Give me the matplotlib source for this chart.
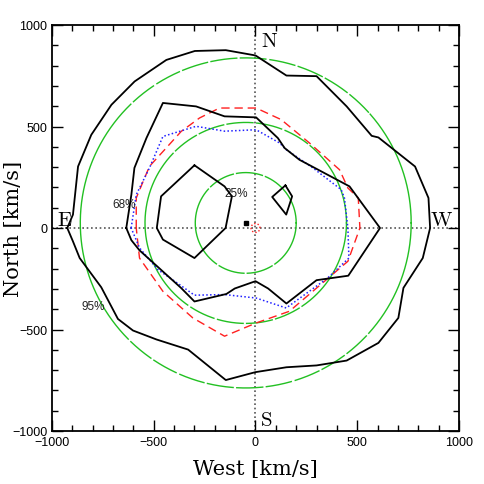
import numpy as np
import matplotlib
matplotlib.use("Agg")
import matplotlib.pyplot as plt
from matplotlib.ticker import MultipleLocator

plt.rcParams['mathtext.fontset'] = 'cm'
plt.rcParams['font.family'] = ['Liberation Sans', 'DejaVu Sans']

# 95% contour
x95 = [-925, -897, -872, -807, -708, -594, -438, -298, -146, 0, 152, 300, 448, 571, 604, 784, 850, 858,
       822, 727, 702, 604, 448, 300, 152, 0, -146, -331, -487, -602, -676, -758, -864, -897, -925]
y95 = [0, 66, 303, 459, 607, 722, 828, 872, 876, 850, 751, 748, 599, 454, 446, 303, 148, 0,
       -148, -295, -443, -566, -653, -677, -686, -710, -749, -599, -549, -505, -448, -292, -148, -66, 0]
# 68% contour
x68 = [-635, -610, -595, -536, -455, -292, -152, 3, 110, 143, 216, 462, 612, 456, 300, 152, 62, 0,
       -102, -143, -300, -365, -570, -610, -635]
y68 = [0, 164, 296, 443, 616, 599, 550, 545, 443, 394, 336, 205, 0, -235, -257, -372, -298, -262,
       -298, -325, -362, -296, -110, -60, 0]
# 25% contours
xh = [-300, -152, -116, -147, -300, -455, -485, -464, -300]
yh = [309, 205, 156, 0, -148, -57, 0, 156, 309]
xd = [147, 180, 151, 82, 147]
yd = [210, 156, 66, 153, 210]
# red dashed contour
xr = [-586, -586, -521, -439, -365, -275, -177, 3, 126, 265, 413, 454, 505, 513, 454, 167, 3, -152,
      -308, -455, -570, -586]
yr = [0, 148, 304, 394, 476, 542, 591, 591, 534, 419, 287, 197, 148, 0, -164, -410, -468, -533,
      -443, -312, -148, 0]
# blue dotted contour
xb = [-611, -586, -521, -455, -292, -152, 3, 118, 151, 282, 421, 437, 454, 459, 355, 151, 3, -152,
      -300, -373, -480, -570, -611]
yb = [0, 164, 296, 451, 501, 477, 484, 419, 386, 296, 189, 148, 0, -148, -246, -394, -345, -328,
      -331, -279, -205, -98, 0]
# green circles
circ_center = (-48, 25)
circ_radii = [248, 495, 813]
# red dotted small circle at origin
origin_r = 22

fig = plt.figure(figsize=(4.85, 4.85), dpi=100)
ax = fig.add_axes([52/485, 53/485, 407/485, 406/485])
ax.set_xlim(-1000, 1000)
ax.set_ylim(-1000, 1000)

ax.axhline(0, color='#555555', ls=(0, (1, 1.6)), lw=1.2, zorder=1)
ax.axvline(0, color='#555555', ls=(0, (1, 1.6)), lw=1.2, zorder=1)

# green circles with gaps only near top/bottom
th = np.linspace(0, 2*np.pi, 2000)
for r in circ_radii:
    cx = circ_center[0] + r*np.cos(th)
    cy = circ_center[1] + r*np.sin(th)
    s = r*th
    period = 145.0
    gap = 16.0
    mask = ((s % period) < gap) & (np.abs(np.cos(th)) < 0.75)
    cx = cx.copy(); cy = cy.copy()
    cx[mask] = np.nan; cy[mask] = np.nan
    ax.plot(cx, cy, color='#22c022', lw=1.0, zorder=2)

ax.plot(xr, yr, color='#ff2020', lw=1.0, dashes=(6, 3.5), zorder=3)
ax.plot(xb, yb, color='#2020ff', lw=1.1, ls=(0, (1, 1.5)), zorder=3)
ax.plot(x95, y95, color='black', lw=1.3, zorder=4)
ax.plot(x68, y68, color='black', lw=1.3, zorder=4)
ax.plot(xh, yh, color='black', lw=1.3, zorder=4)
ax.plot(xd, yd, color='black', lw=1.3, zorder=4)

ax.plot([circ_center[0]], [circ_center[1]], marker='s', ms=3, color='black', zorder=5)
ax.plot(origin_r*np.cos(th), origin_r*np.sin(th), color='#ff2020', lw=1.0, ls=(0, (1, 1.5)), zorder=5)

# compass labels
ax.text(29, 897, r'$\mathrm{N}$', fontsize=15, ha='left', va='baseline')
ax.text(20, -970, r'$\mathrm{S}$', fontsize=15, ha='left', va='baseline')
ax.text(-973, 15, r'$\mathrm{E}$', fontsize=15, ha='left', va='baseline')
ax.text(973, 15, r'$\mathrm{W}$', fontsize=15, ha='right', va='baseline')

ax.text(-646, 116, '68%', fontsize=8.5, ha='center', va='center', color='#222222')
ax.text(-93, 170, '25%', fontsize=8.5, ha='center', va='center', color='#222222')
ax.text(-796, -384, '95%', fontsize=8.5, ha='center', va='center', color='#222222')

ax.xaxis.set_major_locator(MultipleLocator(500))
ax.yaxis.set_major_locator(MultipleLocator(500))
ax.xaxis.set_minor_locator(MultipleLocator(100))
ax.yaxis.set_minor_locator(MultipleLocator(100))
ax.tick_params(which='both', direction='in', top=True, right=True, labelsize=9)
ax.tick_params(which='major', length=8, width=1.0)
ax.tick_params(which='minor', length=4, width=1.0)
for sp in ax.spines.values():
    sp.set_linewidth(1.3)

lab_font = dict(family='DejaVu Serif', fontsize=15)
ax.text(0.5, -0.07, 'West [km/s]', transform=ax.transAxes, ha='center', va='top', **lab_font)
ax.text(-0.095, 0.5, 'North [km/s]', transform=ax.transAxes, ha='center', va='center',
        rotation=90, **lab_font)

fig.savefig('out.png', dpi=100)
